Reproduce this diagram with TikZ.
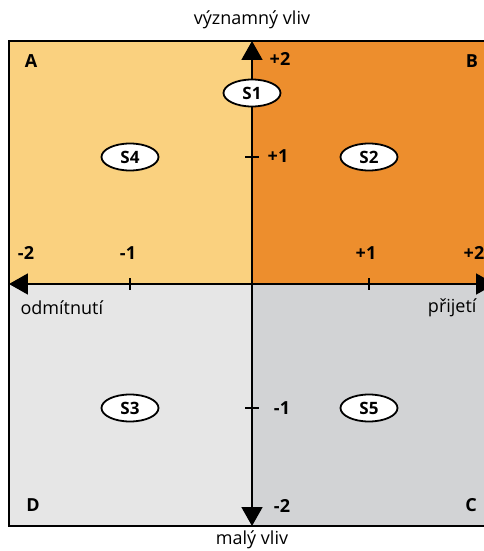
\documentclass[tikz,border=0pt]{standalone}
\usepackage{fontspec}
\setmainfont{Open Sans}
\usetikzlibrary{arrows.meta, shapes.geometric}
\definecolor{qA}{RGB}{250,209,127}
\definecolor{qB}{RGB}{237,142,45}
\definecolor{qC}{RGB}{210,211,213}
\definecolor{qD}{RGB}{230,230,230}

\begin{document}
\begin{tikzpicture}[x=1pt, y=1pt,
  stake/.style={draw, ellipse, fill=white, line width=1.8pt, minimum width=57pt,
  minimum height=27pt, inner sep=0pt, font=\fontsize{17}{19}\selectfont\bfseries},
  num/.style={font=\fontsize{18}{20}\selectfont\bfseries},
  lbl/.style={font=\fontsize{18}{20}\selectfont},
  axis/.style={line width=1.8pt, -{Triangle[width=21pt, length=19pt]}}
]
\useasboundingbox (-252,-267) rectangle (231,284);
% quadrants
\fill[qA] (-243,0) rectangle (0,243);
\fill[qB] (0,0) rectangle (243,243);
\fill[qD] (-243,-242) rectangle (0,0);
\fill[qC] (0,-242) rectangle (243,0);
\draw[line width=1.8pt] (-243,-242) rectangle (243,243);
% axes
\coordinate (o)     at (0,0);
\coordinate (top)   at (0,243);
\coordinate (bot)   at (0,-242);
\coordinate (left)  at (-243,0);
\coordinate (right) at (243,0);
\draw[axis] (o) -- (top);
\draw[axis] (o) -- (bot);
\draw[axis] (o) -- (left);
\draw[axis] (o) -- (right);
% ticks
\foreach \t in {-122,117}
  \draw[line width=1.8pt] (\t,-6) -- (\t,6);
\foreach \t in {-124,127}
  \draw[line width=1.8pt] (-7,\t) -- (7,\t);
% scale values
\node[num] (vp2) at (28,225)  {+2};
\node[num] (vp1) at (26,128)  {+1};
\node[num] (vm1) at (30,-124) {-1};
\node[num] (vm2) at (30,-222) {-2};
\node[num] (hm2) at (-226,31) {-2};
\node[num] (hm1) at (-124,31) {-1};
\node[num] (hp1) at (114,31)  {+1};
\node[num] (hp2) at (222,31)  {+2};
% corners
\node[num] (A) at (-221,223)  {A};
\node[num] (B) at (220,223)   {B};
\node[num] (C) at (219,-221)  {C};
\node[num] (D) at (-219,-221) {D};
% axis titles
\node[lbl] (hi)  at (0,264)    {významný vliv};
\node[lbl] (lo)  at (0,-256)   {malý vliv};
\node[lbl, anchor=west] (rej) at (-235,-24) {odmítnutí};
\node[lbl, anchor=east] (acc) at (228,-24)  {přijetí};
% stakeholders
\node[stake] (s1) at (0,191)     {S1};
\node[stake] (s2) at (117,127)   {S2};
\node[stake] (s3) at (-122,-124) {S3};
\node[stake] (s4) at (-122,127)  {S4};
\node[stake] (s5) at (117,-124)  {S5};
\end{tikzpicture}
\end{document}
